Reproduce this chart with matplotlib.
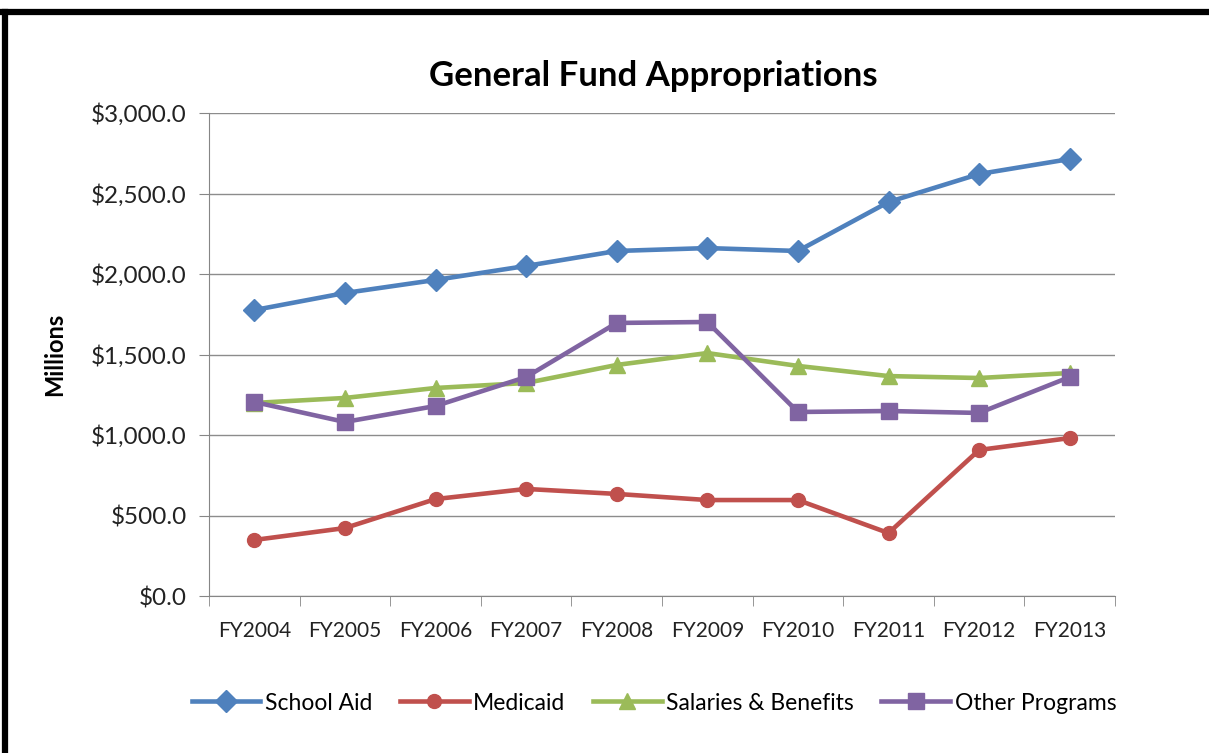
import matplotlib
matplotlib.use("Agg")
import matplotlib.pyplot as plt
from matplotlib.lines import Line2D
from matplotlib.ticker import FuncFormatter, MultipleLocator

years = ["FY2004", "FY2005", "FY2006", "FY2007", "FY2008",
         "FY2009", "FY2010", "FY2011", "FY2012", "FY2013"]
school_aid = [1776, 1882, 1963, 2050, 2143, 2161, 2143, 2447, 2621, 2714]
medicaid = [348, 422, 602, 665, 634, 596, 596, 391, 907, 981]
salaries = [1199, 1230, 1292, 1323, 1435, 1509, 1429, 1366, 1354, 1385]
other = [1205, 1081, 1180, 1360, 1696, 1702, 1143, 1149, 1137, 1360]

plt.rcParams['font.family'] = ['Lato', 'DejaVu Sans']

fig = plt.figure(figsize=(12.09, 7.53), dpi=100)
ax = fig.add_axes([209 / 1209, 1 - 596 / 753, (1115 - 209) / 1209, (596 - 113) / 753])

x = list(range(len(years)))
series = [
    (school_aid, "School Aid", "#4F81BD", "D", 11.5),
    (medicaid, "Medicaid", "#C0504D", "o", 10),
    (salaries, "Salaries & Benefits", "#9BBB59", "^", 11),
    (other, "Other Programs", "#8064A2", "s", 11),
]
for vals, name, col, mk, ms in series:
    ax.plot(x, vals, color=col, lw=3.3, marker=mk, ms=ms, label=name)

ax.set_xlim(-0.5, len(years) - 0.5)
ax.set_ylim(0, 3000)
ax.yaxis.set_major_locator(MultipleLocator(500))
ax.yaxis.set_major_formatter(FuncFormatter(lambda v, p: "${:,.1f}".format(v)))
ax.set_xticks(x)
ax.set_xticklabels(years)
ax.set_xticks([i - 0.5 for i in range(len(years) + 1)], minor=True)
ax.tick_params(axis="x", which="major", length=0, pad=18, labelsize=15, colors="#222222")
ax.tick_params(axis="x", which="minor", length=7, color="#868686")
ax.tick_params(axis="y", length=7, color="#868686", labelsize=17.5, labelcolor="#222222", pad=9)
ax.grid(axis="y", color="#8c8c8c", lw=1)
ax.set_axisbelow(True)
for s in ["top", "right"]:
    ax.spines[s].set_visible(False)
for s in ["left", "bottom"]:
    ax.spines[s].set_color("#868686")

ax.set_ylabel("Millions", fontsize=17, fontweight="bold")
ax.yaxis.set_label_coords(-0.158, 0.5)
fig.text(653 / 1209, 1 - 76 / 753, "General Fund Appropriations", ha="center", va="center",
         fontsize=25, fontweight="bold")

fig.legend(loc="center", bbox_to_anchor=(654 / 1209, 1 - 703 / 753), ncol=4, frameon=False,
           fontsize=16.5, handlelength=3.0, columnspacing=1.2, handletextpad=0.2)

# black frame around the chart
fig.add_artist(Line2D([0, 1], [1 - 12 / 753] * 2, color="black", lw=4.5, transform=fig.transFigure))
fig.add_artist(Line2D([5 / 1209] * 2, [0, 1 - 12 / 753], color="black", lw=4.5, transform=fig.transFigure))

fig.savefig("out.png", dpi=100)
